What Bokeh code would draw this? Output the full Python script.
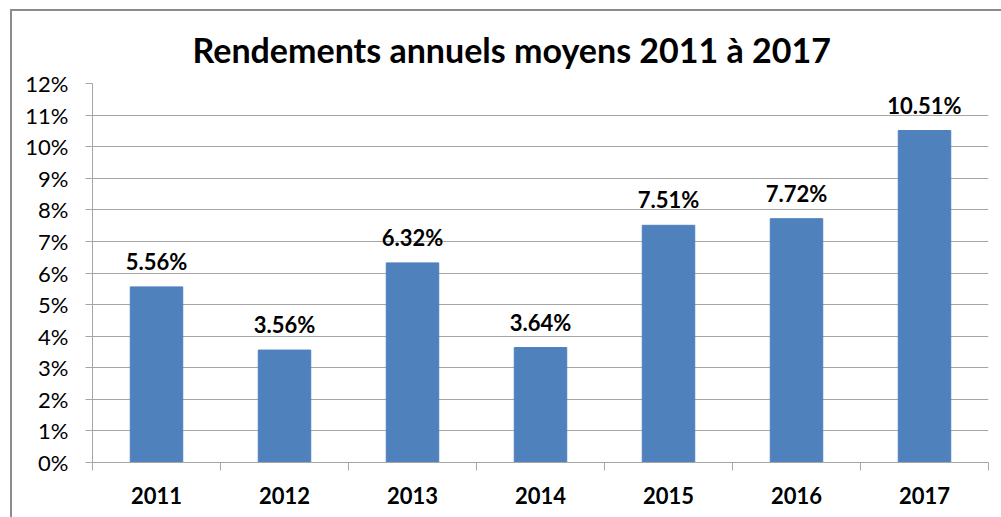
from bokeh.plotting import figure
from bokeh.models import FixedTicker, PrintfTickFormatter, ColumnDataSource, LabelSet, Range1d
from bokeh.core.properties import value
from bokeh.embed import file_html
from bokeh.resources import INLINE

years = ["2011", "2012", "2013", "2014", "2015", "2016", "2017"]
rendements = [5.56, 3.56, 6.32, 3.64, 7.51, 7.72, 10.51]
y_ticks = list(range(0, 13))
title_text = "Rendements annuels moyens 2011 à 2017"

FONT = "Lato"
GRID = "#a6a6a6"
BAR = "#4f81bd"

xpos = [i + 0.5 for i in range(len(years))]
src = ColumnDataSource(dict(x=xpos, top=rendements,
                            lab=["%.2f%%" % v for v in rendements]))

p = figure(width=991, height=508, output_backend="svg", toolbar_location=None,
           x_range=Range1d(0, len(years)), y_range=Range1d(0, 12),
           min_border_left=80, min_border_right=15, min_border_top=72, min_border_bottom=57,
           title=title_text)
p.margin = (9, 0, 0, 10)
p.styles = {"border-left": "2px solid #8c8c8c", "border-top": "2px solid #8c8c8c"}

p.title.align = "left"
p.title.text_font = FONT
p.title.text_font_size = "34px"
p.title.text_font_style = "bold"
p.title.text_color = "black"
p.title.standoff = 27
p.title.offset = 100

p.vbar(x="x", top="top", width=0.41, bottom=0, source=src, color=BAR, line_color=BAR)

labels = LabelSet(x="x", y="top", text="lab", source=src, text_align="center",
                  text_baseline="alphabetic", y_offset=17, text_font=value(FONT),
                  text_font_size=value("22px"), text_font_style=value("bold"),
                  text_color=value("black"))
p.add_layout(labels)

# y axis
p.yaxis.ticker = FixedTicker(ticks=y_ticks)
p.yaxis.formatter = PrintfTickFormatter(format="%d%%")
p.yaxis.major_label_text_font = FONT
p.yaxis.major_label_text_font_size = "22px"
p.yaxis.major_label_text_color = "black"
p.yaxis.major_tick_out = 7
p.yaxis.major_tick_in = 0
p.yaxis.minor_tick_out = 0
p.yaxis.minor_tick_in = 0
p.yaxis.axis_line_color = GRID
p.yaxis.major_tick_line_color = GRID
p.yaxis.major_label_standoff = 17

# x axis
p.xaxis.ticker = FixedTicker(ticks=xpos, minor_ticks=list(range(len(years) + 1)))
p.xaxis.major_label_overrides = {x: y for x, y in zip(xpos, years)}
p.xaxis.major_tick_out = 0
p.xaxis.major_tick_in = 0
p.xaxis.minor_tick_out = 8
p.xaxis.minor_tick_in = 0
p.xaxis.minor_tick_line_color = GRID
p.xaxis.axis_line_color = GRID
p.xaxis.major_label_text_font = FONT
p.xaxis.major_label_text_font_size = "22px"
p.xaxis.major_label_text_font_style = "bold"
p.xaxis.major_label_text_color = "black"
p.xaxis.major_label_standoff = 16

p.xgrid.grid_line_color = None
p.ygrid.grid_line_color = GRID
p.ygrid.grid_line_width = 1
p.outline_line_color = None

open("out.html", "w").write(file_html(p, INLINE))
